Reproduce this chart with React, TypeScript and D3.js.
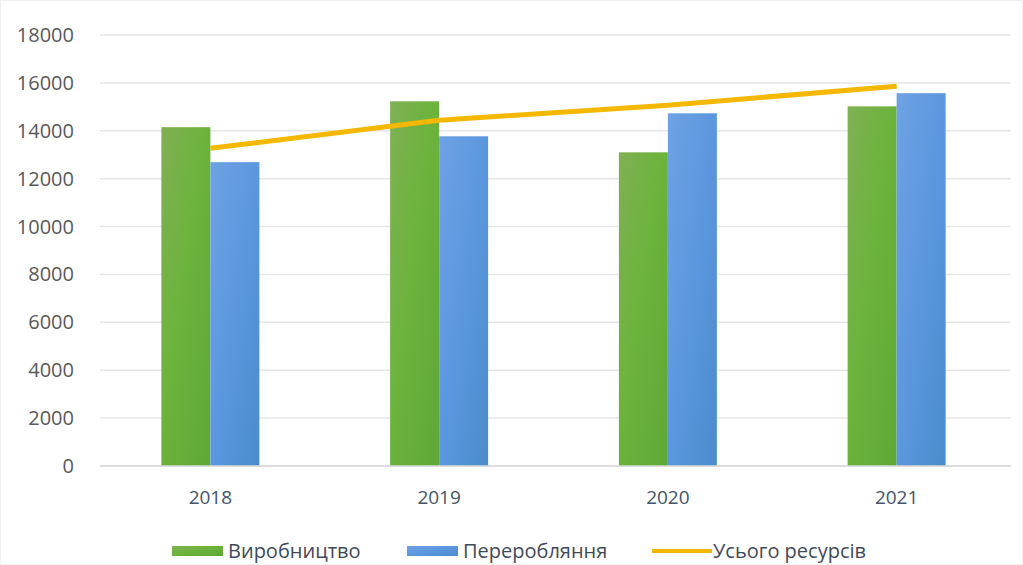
import React, { useEffect, useRef } from 'react';
import * as d3 from 'd3';

const years = ['2018', '2019', '2020', '2021'];
const production = [14150, 15230, 13100, 15020];
const processing = [12690, 13770, 14730, 15570];
const totalResources = [13270, 14440, 15070, 15860];
const yTicks = [0, 2000, 4000, 6000, 8000, 10000, 12000, 14000, 16000, 18000];

const seriesNames = ['Виробництво', 'Переробляння', 'Усього ресурсів'];

export default function App() {
  const svgRef = useRef<SVGSVGElement>(null);

  useEffect(() => {
    document.body.style.margin = '0';
    if (!svgRef.current) return;
    const svg = d3.select(svgRef.current);
    svg.selectAll('*').remove();

    const width = 1023;
    const height = 565;
    const margin = { top: 35, right: 12, bottom: 99, left: 96 };
    const font = '"Open Sans", "Noto Sans", sans-serif';

    const x = d3.scaleBand<string>()
      .domain(years)
      .range([margin.left, width - margin.right]);
    const inner = d3.scaleBand<string>()
      .domain(['p', 'r'])
      .range([x.bandwidth() / 2 - 49, x.bandwidth() / 2 + 49]);
    const y = d3.scaleLinear()
      .domain([0, 18000])
      .range([height - margin.bottom, margin.top]);

    // Gradients for the textured bars
    const defs = svg.append('defs');
    const green = defs.append('linearGradient').attr('id', 'gGreen').attr('x1', 0).attr('x2', 1).attr('y1', 0).attr('y2', 1);
    green.append('stop').attr('offset', '0%').attr('stop-color', '#80b054');
    green.append('stop').attr('offset', '45%').attr('stop-color', '#6cb33c');
    green.append('stop').attr('offset', '100%').attr('stop-color', '#5ea836');
    const blue = defs.append('linearGradient').attr('id', 'gBlue').attr('x1', 0).attr('x2', 1).attr('y1', 0).attr('y2', 1);
    blue.append('stop').attr('offset', '0%').attr('stop-color', '#6ea2e4');
    blue.append('stop').attr('offset', '50%').attr('stop-color', '#5b97de');
    blue.append('stop').attr('offset', '100%').attr('stop-color', '#4a8ccb');

    svg.append('rect')
      .attr('x', 0.5).attr('y', 0.5)
      .attr('width', width - 1).attr('height', height - 1)
      .attr('fill', 'white')
      .attr('stroke', '#f0f0f0');

    // Grid lines
    svg.append('g')
      .selectAll('line')
      .data(yTicks)
      .join('line')
      .attr('x1', margin.left + 4)
      .attr('x2', width - margin.right)
      .attr('y1', d => y(d))
      .attr('y2', d => y(d))
      .attr('stroke', '#e6e6e6')
      .attr('stroke-width', 1.5);

    // Y labels
    svg.append('g')
      .selectAll('text')
      .data(yTicks)
      .join('text')
      .attr('x', 74)
      .attr('y', d => y(d))
      .attr('dy', '0.35em')
      .attr('text-anchor', 'end')
      .attr('fill', '#595959')
      .attr('font-family', font)
      .attr('font-size', 20)
      .text(d => String(d));

    // Bars
    const groups = svg.append('g')
      .selectAll('g')
      .data(years)
      .join('g')
      .attr('transform', d => `translate(${x(d)},0)`);

    groups.append('rect')
      .attr('x', inner('p')!)
      .attr('width', inner.bandwidth())
      .attr('y', (_, i) => y(production[i]))
      .attr('height', (_, i) => y(0) - y(production[i]))
      .attr('fill', 'url(#gGreen)');

    groups.append('rect')
      .attr('x', inner('r')!)
      .attr('width', inner.bandwidth())
      .attr('y', (_, i) => y(processing[i]))
      .attr('height', (_, i) => y(0) - y(processing[i]))
      .attr('fill', 'url(#gBlue)');

    // Baseline
    svg.append('line')
      .attr('x1', margin.left + 4)
      .attr('x2', width - margin.right)
      .attr('y1', y(0))
      .attr('y2', y(0))
      .attr('stroke', '#d9d9d9')
      .attr('stroke-width', 1.5);

    // Line series
    const line = d3.line<number>()
      .x((_, i) => x(years[i])! + x.bandwidth() / 2)
      .y(d => y(d));
    svg.append('path')
      .datum(totalResources)
      .attr('d', line)
      .attr('fill', 'none')
      .attr('stroke', '#f5b800')
      .attr('stroke-width', 5);

    // X labels
    svg.append('g')
      .selectAll('text')
      .data(years)
      .join('text')
      .attr('x', d => x(d)! + x.bandwidth() / 2)
      .attr('y', 504)
      .attr('text-anchor', 'middle')
      .attr('fill', '#44546a')
      .attr('font-family', font)
      .attr('font-size', 19)
      .text(d => d);

    // Legend
    const legendY = 551;
    const legendItems = [
      { name: seriesNames[0], x: 172, kind: 'rect', fill: 'url(#gGreen)' },
      { name: seriesNames[1], x: 407, kind: 'rect', fill: 'url(#gBlue)' },
      { name: seriesNames[2], x: 652, kind: 'line', fill: '#f5b800' },
    ];
    const lg = svg.append('g')
      .selectAll('g')
      .data(legendItems)
      .join('g')
      .attr('transform', d => `translate(${d.x},${legendY})`);
    lg.each(function (d) {
      const el = d3.select(this);
      if (d.kind === 'rect') {
        el.append('rect')
          .attr('x', 0).attr('y', -5)
          .attr('width', 51).attr('height', 10)
          .attr('fill', d.fill);
      } else {
        el.append('line')
          .attr('x1', 0).attr('x2', 60)
          .attr('y1', 0).attr('y2', 0)
          .attr('stroke', d.fill)
          .attr('stroke-width', 4);
      }
      el.append('text')
        .attr('x', d.kind === 'rect' ? 56 : 61)
        .attr('y', 0)
        .attr('dy', '0.35em')
        .attr('fill', '#3f4a58')
        .attr('font-family', font)
        .attr('font-size', 20)
        .text(d.name);
    });
  }, []);

  return <svg ref={svgRef} width={1023} height={565} style={{ display: 'block' }} />;
}
